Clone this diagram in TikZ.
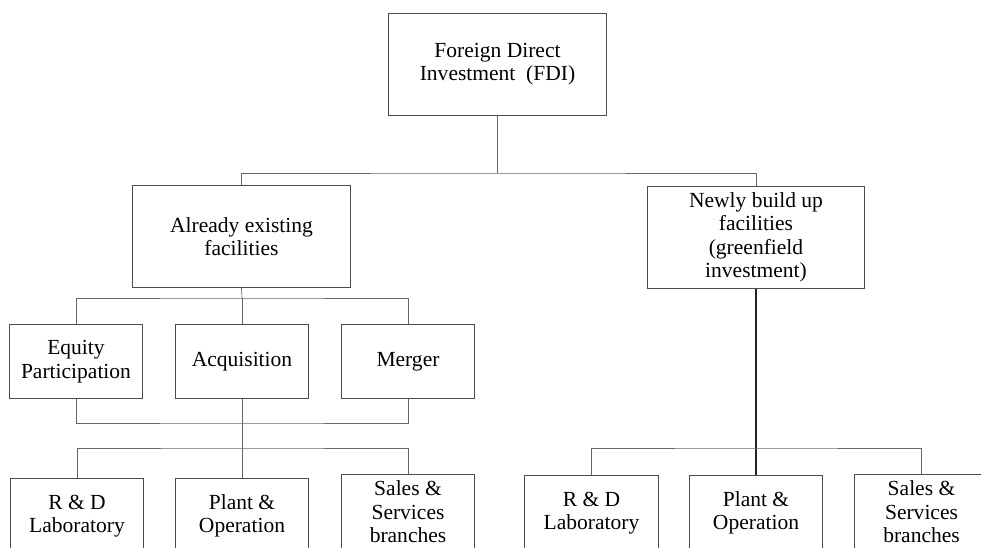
\documentclass[tikz,border=0pt]{standalone}
\usepackage{fontspec}
\setmainfont{Liberation Serif}

\tikzset{
  box/.style={draw=black!70, line width=0.6pt, fill=white, align=center,
    inner sep=2pt, font=\fontsize{15.3}{16.7}\selectfont},
  bigbox/.style={box, minimum width=5.43cm, minimum height=2.55cm},
  smallbox/.style={box, minimum width=3.33cm, minimum height=1.83cm},
  lowbox/.style={box, minimum width=3.33cm, minimum height=1.9cm},
  link/.style={draw=black!60, line width=0.5pt},
}

\begin{document}
\begin{tikzpicture}[x=0.025cm, y=-0.025cm]

\clip (0, 0) rectangle (981, 547);

\node[bigbox] (fdi) at (497.5, 64) {Foreign Direct\\Investment\ \ (FDI)};

\node[bigbox] (exist) at (241.5, 236.5) {Already existing\\facilities};
\node[bigbox] (newly) at (756, 237.5) {Newly build up\\facilities\\(greenfield\\investment)};

\node[smallbox] (equity) at (76, 361.5) {Equity\\Participation};
\node[smallbox] (acq) at (242, 361.5) {Acquisition};
\node[smallbox] (merger) at (408, 361.5) {Merger};

\node[lowbox] (rdA) at (77, 516) {R \& D\\Laboratory};
\node[lowbox] (plantA) at (242, 516) {Plant \&\\Operation};
\node[lowbox] (salesA) at (408, 512) {Sales \&\\Services\\branches};

\node[lowbox] (rdB) at (591.5, 513) {R \& D\\Laboratory};
\node[lowbox] (plantB) at (756, 513) {Plant \&\\Operation};
\node[lowbox] (salesB) at (921.5, 512) {Sales \&\\Services\\branches};

% joints of the tree
\coordinate (busTop) at (497.5, 173);
\coordinate (busExist) at (242, 298);
\coordinate (busJoin) at (242, 423);
\coordinate (busLowA) at (242, 448);
\coordinate (busLowB) at (756, 448);

\draw[link] (fdi.south) -- (busTop);
\draw[link] (exist.north) |- (busTop) -| (newly.north);

\draw[link] (exist.south) -- (busExist);
\draw[link] (equity.north) |- (busExist) -| (merger.north);
\draw[link] (busExist) -- (acq.north);

\draw[link] (equity.south) |- (busJoin) -| (merger.south);
\draw[link] (acq.south) -- (plantA.north);
\draw[link] (rdA.north) |- (busLowA) -| (salesA.north);

\draw[link, draw=black!85, line width=0.8pt] (newly.south) -- (plantB.north);
\draw[link] (rdB.north) |- (busLowB) -| (salesB.north);

\end{tikzpicture}
\end{document}
